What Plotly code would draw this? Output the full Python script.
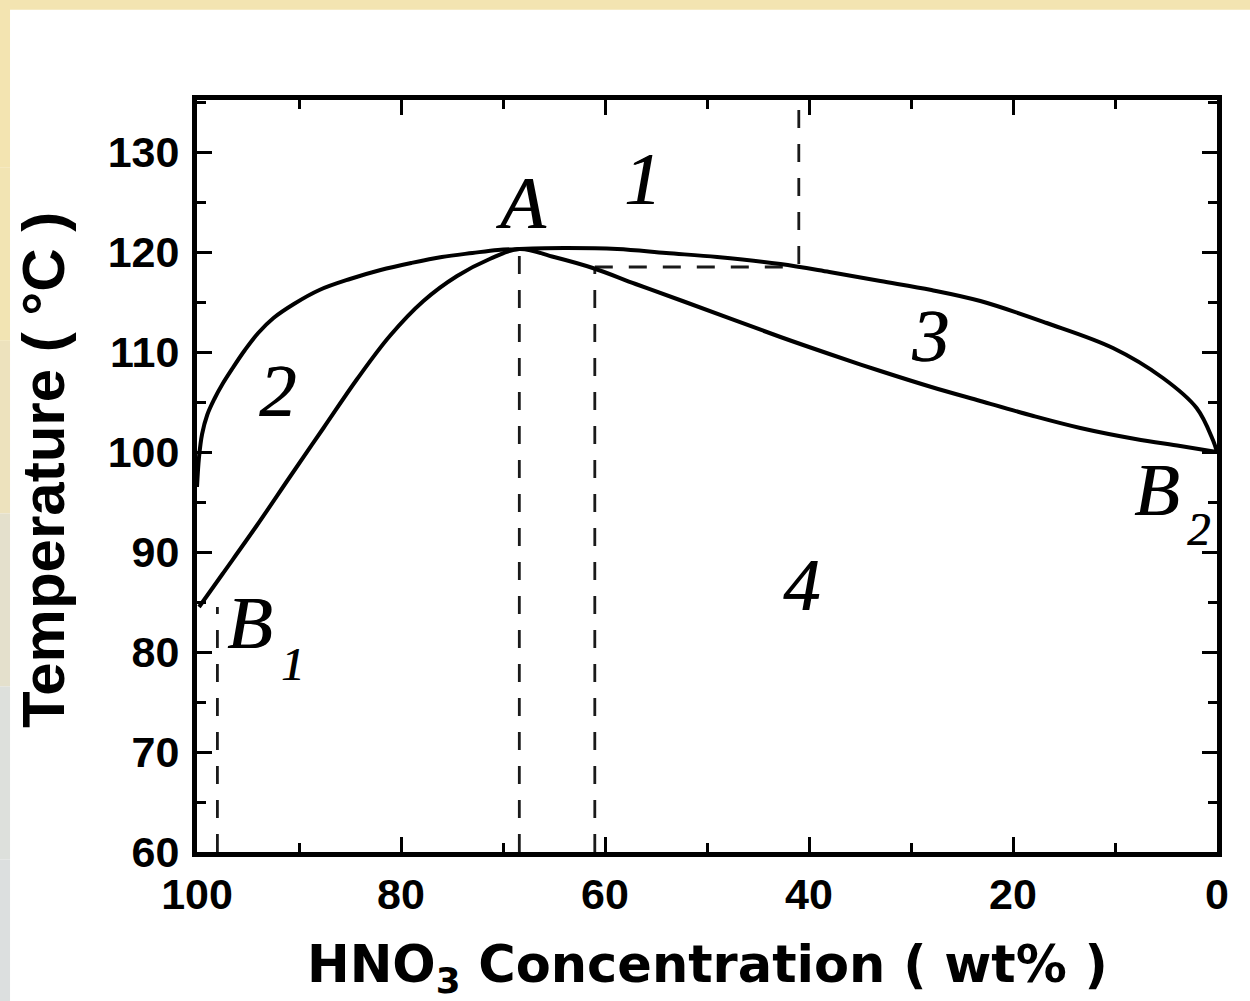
import plotly.graph_objects as go

# ---------------- data ----------------
# upper curve (vapour / dew line), HNO3 wt% vs temperature (°C)
dew_x = [100, 99.8, 99.5, 99.0, 98.3, 97.5, 96.5, 95.3, 94.0, 92.5, 90.5, 88.0, 85.0, 82.0,
         79.0, 76.0, 73.0, 70.5, 68.4, 64.0, 58.8, 54.0, 49.0, 42.8, 38.0, 33.0, 28.0,
         23.2, 16.7, 10.2, 5.3, 2.0, 0.4, 0]
dew_y = [96.5, 99.5, 101.8, 103.7, 105.3, 106.8, 108.4, 110.2, 111.9, 113.4, 114.8, 116.2, 117.3, 118.2,
         118.9, 119.5, 119.9, 120.2, 120.3, 120.4, 120.3, 119.9, 119.5, 118.8, 118.0, 117.1, 116.2,
         115.1, 112.9, 110.4, 107.4, 104.4, 101.2, 100]

# lower curve (liquid / bubble line)
bub_x = [99.8, 97.5, 94.1, 90.9, 87.6, 84.3, 81.1, 77.8, 74.5, 71.3, 68.4,
         65.0, 61.2, 57.0, 52.4, 42.8, 38.0, 33.0, 28.0, 23.2, 18.0, 13.4, 8.0, 3.6, 0]
bub_y = [84.5, 87.8, 92.7, 97.5, 102.4, 107.3, 111.6, 115.1, 117.6, 119.3, 120.3,
         119.5, 118.4, 116.8, 115.1, 111.5, 109.8, 108.1, 106.5, 105.1, 103.6, 102.4, 101.3, 100.6, 100]

# dashed guide lines (x pairs, y pairs)
guide_x = [[98, 98], [68.4, 68.4], [61, 61], [61, 42], [41, 41]]
guide_y = [[60, 84.5], [60, 120.3], [60, 118.4], [118.5, 118.5], [118.8, 135.2]]

x_ticks = [100, 80, 60, 40, 20, 0]
y_ticks = [60, 70, 80, 90, 100, 110, 120, 130]

# region labels
region_text = ["A", "1", "2", "3", "4"]
region_x = [68.3, 56.3, 92.1, 28.1, 40.7]
region_y = [124.9, 127.3, 106.1, 111.6, 86.7]

# point labels with subscripts
point_text = ["B", "B"]
point_sub = ["1", "2"]
point_x = [94.9, 5.9]
point_y = [82.9, 96.2]
sub_x = [90.6, 1.8]
sub_y = [78.8, 92.3]

# ---------------- figure ----------------
fig = go.Figure()

for gx, gy in zip(guide_x, guide_y):
    fig.add_trace(go.Scatter(x=gx, y=gy, mode="lines",
                             line=dict(color="#1a1a1a", width=2.8, dash="18px,16px"),
                             hoverinfo="skip", showlegend=False))

fig.add_trace(go.Scatter(x=dew_x, y=dew_y, mode="lines",
                         line=dict(color="black", width=4, shape="spline", smoothing=1.0),
                         showlegend=False))
fig.add_trace(go.Scatter(x=bub_x, y=bub_y, mode="lines",
                         line=dict(color="black", width=4, shape="spline", smoothing=1.0),
                         showlegend=False))

serif_it = dict(family="Liberation Serif", size=74, color="black", style="italic",
                shadow="1px 0px 0px black")
for t, x, y in zip(region_text, region_x, region_y):
    fig.add_annotation(x=x, y=y, text=t, showarrow=False, font=serif_it,
                       xanchor="center", yanchor="middle")
for t, x, y in zip(point_text, point_x, point_y):
    fig.add_annotation(x=x, y=y, text=t, showarrow=False, font=serif_it,
                       xanchor="center", yanchor="middle")
for t, x, y in zip(point_sub, sub_x, sub_y):
    fig.add_annotation(x=x, y=y, text=t, showarrow=False,
                       font=dict(family="Liberation Serif", size=46, color="black", style="italic",
                                 shadow="1px 0px 0px black"),
                       xanchor="center", yanchor="middle")

# axis titles
fig.add_annotation(xref="paper", yref="paper", x=0.5, y=-0.154,
                   text="HNO<sub>3</sub> Concentration ( wt% )", showarrow=False,
                   font=dict(family="DejaVu Sans", size=51, color="black", weight="bold"),
                   xanchor="center", yanchor="middle")
fig.add_annotation(xref="paper", yref="paper", x=-0.150, y=0.508,
                   text="Temperature ( °C )", showarrow=False, textangle=-90,
                   font=dict(family="Liberation Sans", size=60, color="black", weight="bold"),
                   xanchor="center", yanchor="middle")

# background: tan frame around white page
fig.add_shape(type="rect", xref="paper", yref="paper", layer="below",
              x0=-0.2, x1=1.04, y0=1.12, y1=1.14, fillcolor="#f3e4b1", line_width=0)
left_cols = ["#f3e4b1", "#f2e4b3", "#ede2bd", "#e4e0cc", "#dde0dc", "#dcdfdf"]
for i, c in enumerate(left_cols):
    y1 = 1.14 - i * 0.23
    y0 = y1 - 0.23 if i < len(left_cols) - 1 else -0.2
    fig.add_shape(type="rect", xref="paper", yref="paper", layer="below",
                  x0=-0.2, x1=-0.1833, y0=y0, y1=y1, fillcolor=c, line_width=0)

tickfont = dict(family="Liberation Sans", size=43, color="black", weight="bold")
fig.update_xaxes(range=[100, 0], tickvals=x_ticks, ticktext=[str(v) for v in x_ticks],
                 ticks="inside", ticklen=15, tickwidth=3, tickcolor="black",
                 minor=dict(ticks="inside", ticklen=9, tickwidth=3, tickcolor="black", dtick=10, tick0=0),
                 showline=True, linewidth=5, linecolor="black", mirror="ticks",
                 showgrid=False, zeroline=False, tickfont=tickfont)
fig.update_yaxes(range=[60, 135.2], tickvals=y_ticks, ticktext=[str(v) for v in y_ticks],
                 ticks="inside", ticklen=15, tickwidth=3, tickcolor="black",
                 minor=dict(ticks="inside", ticklen=9, tickwidth=3, tickcolor="black", dtick=5, tick0=0),
                 showline=True, linewidth=5, linecolor="black", mirror="ticks",
                 ticklabelstandoff=4,
                 showgrid=False, zeroline=False, tickfont=tickfont)

fig.update_layout(width=1250, height=1001, template="none",
                  margin=dict(l=197, r=33, t=100, b=149, autoexpand=False),
                  paper_bgcolor="white", plot_bgcolor="white", showlegend=False)

fig.write_html("out.html", config={"displayModeBar": False},
               post_script="document.body.style.margin='0';document.body.style.overflow='hidden';")
